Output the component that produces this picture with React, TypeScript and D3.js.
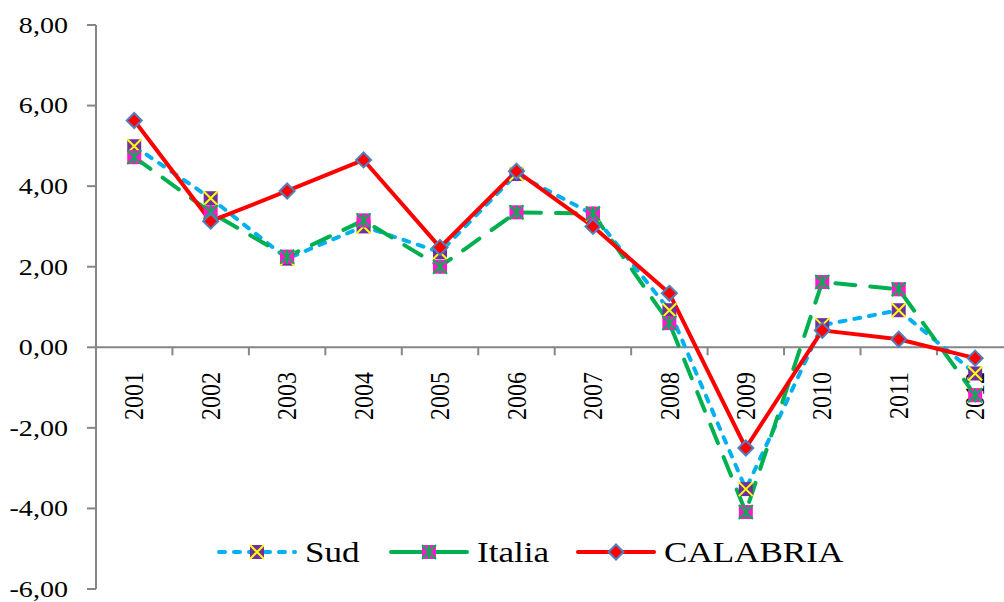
import React from "react";
import * as d3 from "d3";

const years = ["2001","2002","2003","2004","2005","2006","2007","2008","2009","2010","2011","2012"];
const sud = [4.99, 3.70, 2.20, 3.00, 2.36, 4.30, 3.30, 0.92, -3.52, 0.55, 0.92, -0.65];
const italia = [4.72, 3.35, 2.25, 3.15, 2.00, 3.35, 3.32, 0.60, -4.09, 1.62, 1.44, -1.19];
const calabria = [5.63, 3.13, 3.88, 4.65, 2.48, 4.37, 3.00, 1.34, -2.50, 0.42, 0.20, -0.27];
const yTicks = [8, 6, 4, 2, 0, -2, -4, -6];
const seriesNames = ["Sud", "Italia", "CALABRIA"];

const W = 1004, H = 602;
const FONT = "'Liberation Serif', 'Times New Roman', serif";
const SX = 1.17;

const x = d3.scaleBand<string>().domain(years).range([96, 96 + 12 * 76.45]);
const y = d3.scaleLinear().domain([-6, 8]).range([589, 25]);
const fmt = (v: number) => v.toFixed(2).replace(".", ",");

function SudMarker({ cx, cy }: { cx: number; cy: number }) {
  const s = 7;
  return (
    <g>
      <rect x={cx - s} y={cy - s} width={2 * s} height={2 * s} fill="#7030A0" />
      <path d={`M${cx - s} ${cy - s}L${cx + s} ${cy + s}M${cx + s} ${cy - s}L${cx - s} ${cy + s}`} stroke="#FFFF00" strokeWidth={2} />
    </g>
  );
}
function ItaliaMarker({ cx, cy }: { cx: number; cy: number }) {
  const s = 7;
  return (
    <g>
      <rect x={cx - s} y={cy - s} width={2 * s} height={2 * s} fill="#FF19CC" />
      <path d={`M${cx - s} ${cy - s}L${cx + s} ${cy + s}M${cx + s} ${cy - s}L${cx - s} ${cy + s}M${cx} ${cy - s}L${cx} ${cy + s}`} stroke="#00B050" strokeWidth={2} />
    </g>
  );
}
function CalMarker({ cx, cy }: { cx: number; cy: number }) {
  const s = 7.5;
  return (
    <path d={`M${cx} ${cy - s}L${cx + s} ${cy}L${cx} ${cy + s}L${cx - s} ${cy}Z`} fill="#FF0000" stroke="#4F81BD" strokeWidth={2} />
  );
}

const series = [
  { name: seriesNames[0], data: sud, color: "#00B0F0", dash: "6 9", Marker: SudMarker },
  { name: seriesNames[1], data: italia, color: "#00B050", dash: "20 15", Marker: ItaliaMarker },
  { name: seriesNames[2], data: calabria, color: "#FF0000", dash: undefined as string | undefined, Marker: CalMarker },
];

export default function App() {
  const cx = (yr: string) => (x(yr) as number) + x.bandwidth() / 2;
  const line = (data: number[]) =>
    d3.line<number>().x((_, i) => cx(years[i])).y((d) => y(d))(data) as string;
  const legendX = [219, 391, 578];
  const legendY = 552;
  return (
    <svg width={W} height={H} style={{ position: "absolute", left: 0, top: 0, background: "#fff" }} fontFamily={FONT}>
      {/* y axis */}
      <line x1={96} x2={96} y1={y(8)} y2={y(-6)} stroke="#868686" strokeWidth={2} />
      {yTicks.map((t) => (
        <g key={t}>
          <line x1={87} x2={96} y1={y(t)} y2={y(t)} stroke="#868686" strokeWidth={2} />
          <text transform={`translate(68,${y(t)}) scale(${SX},1)`} textAnchor="end" dominantBaseline="central" fontSize={24} fill="#000">
            {fmt(t)}
          </text>
        </g>
      ))}
      {/* x axis */}
      <line x1={96} x2={W} y1={y(0)} y2={y(0)} stroke="#868686" strokeWidth={2} />
      {years.map((yr) => (
        <line key={"t" + yr} x1={(x(yr) as number) + x.bandwidth()} x2={(x(yr) as number) + x.bandwidth()} y1={y(0)} y2={y(0) + 8} stroke="#868686" strokeWidth={2} />
      ))}
      {years.map((yr) => (
        <text key={yr} transform={`translate(${cx(yr)},372) scale(${SX},1) rotate(-90)`} textAnchor="end" dominantBaseline="central" fontSize={24} fill="#000">
          {yr}
        </text>
      ))}
      {/* series */}
      {series.map((s) => (
        <path key={s.name} d={line(s.data)} fill="none" stroke={s.color} strokeWidth={4} strokeDasharray={s.dash} strokeLinecap={s.dash ? "round" : "butt"} strokeLinejoin="round" />
      ))}
      {series.map((s) => (
        <g key={"m" + s.name}>
          {s.data.map((v, i) => (
            <s.Marker key={i} cx={cx(years[i])} cy={y(v)} />
          ))}
        </g>
      ))}
      {/* legend */}
      {series.map((s, i) => {
        const lx = legendX[i];
        return (
          <g key={"l" + s.name}>
            <line x1={lx} x2={lx + 76} y1={legendY} y2={legendY} stroke={s.color} strokeWidth={4} strokeLinecap="round" strokeDasharray={i === 0 ? "6 9" : undefined} />
            <s.Marker cx={lx + 38} cy={legendY} />
            <text transform={`translate(${lx + 86},${legendY}) scale(${SX},1)`} dominantBaseline="central" fontSize={30} fill="#000">
              {s.name}
            </text>
          </g>
        );
      })}
    </svg>
  );
}
